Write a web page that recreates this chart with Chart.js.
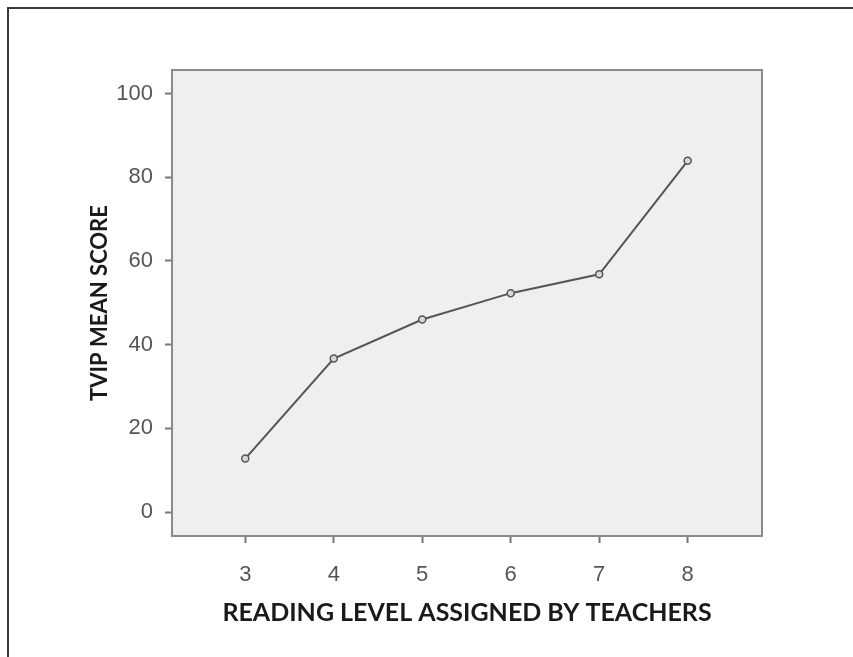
<!DOCTYPE html>
<html>
<head>
<meta charset="utf-8">
<script src="https://cdn.jsdelivr.net/npm/chart.js@4.4.1/dist/chart.umd.min.js"></script>
<style>
  html, body { margin: 0; padding: 0; background: #fff; overflow: hidden; }
  #wrap { position: relative; width: 853px; height: 657px; }
  #frame { position: absolute; left: 7px; top: 7px; width: 900px; height: 700px;
           border-left: 2px solid #3a3a3a; border-top: 2px solid #3a3a3a; }
  canvas { position: absolute; left: 0; top: 0; }
</style>
</head>
<body>
<div id="wrap">
  <div id="frame"></div>
  <canvas id="chart" width="853" height="657"></canvas>
</div>
<script>
const levels = [3, 4, 5, 6, 7, 8];
const scores = [12.8, 36.7, 46.0, 52.3, 56.8, 83.9];
const yTicks = [0, 20, 40, 60, 80, 100];

// gray plot background with a frame round it
const plotFrame = {
  id: 'plotFrame',
  beforeDraw(chart) {
    const { ctx, chartArea: a } = chart;
    ctx.save();
    ctx.fillStyle = '#efefef';
    ctx.fillRect(a.left, a.top, a.right - a.left, a.bottom - a.top);
    ctx.restore();
  },
  afterDatasetsDraw(chart) {
    const { ctx, chartArea: a } = chart;
    ctx.save();
    ctx.strokeStyle = '#8a8a8a';
    ctx.lineWidth = 2;
    ctx.strokeRect(a.left, a.top, a.right - a.left, a.bottom - a.top);
    ctx.restore();
  }
};

new Chart(document.getElementById('chart'), {
  type: 'line',
  data: {
    datasets: [{
      data: levels.map((x, i) => ({ x, y: scores[i] })),
      borderColor: '#555',
      borderWidth: 2,
      pointRadius: 3.5,
      pointBorderWidth: 1.5,
      pointBorderColor: '#555',
      pointBackgroundColor: '#d8d8d8',
      tension: 0
    }]
  },
  options: {
    responsive: false,
    animation: false,
    layout: { padding: { left: 8, top: 70, right: 91, bottom: 0 } },
    plugins: { legend: { display: false }, tooltip: { enabled: false } },
    scales: {
      x: {
        type: 'linear',
        min: 2.172,
        max: 8.84,
        afterFit: s => { s.height = 121; },
        afterBuildTicks: s => { s.ticks = levels.map(v => ({ value: v })); },
        grid: { drawOnChartArea: false, tickLength: 7, color: '#777', tickWidth: 2 },
        border: { display: false },
        ticks: { color: '#555', padding: 19, font: { family: 'Liberation Sans', size: 22 } },
        title: {
          display: true,
          text: 'READING LEVEL ASSIGNED BY TEACHERS',
          color: '#1a1a1a',
          padding: { bottom: 29 },
          font: { family: 'Lato', weight: 'bold', size: 25 }
        }
      },
      y: {
        min: -5.7,
        max: 105.6,
        afterFit: s => { s.width = 164; },
        afterBuildTicks: s => { s.ticks = yTicks.map(v => ({ value: v })); },
        grid: { drawOnChartArea: false, tickLength: 7, color: '#777', tickWidth: 2 },
        border: { display: false },
        ticks: { color: '#555', padding: 12, font: { family: 'Liberation Sans', size: 22 } },
        title: {
          display: true,
          text: 'TVIP MEAN SCORE',
          color: '#1a1a1a',
          padding: { top: 79 },
          font: { family: 'Lato', weight: 'bold', size: 22 }
        }
      }
    }
  },
  plugins: [plotFrame]
});
</script>
</body>
</html>
